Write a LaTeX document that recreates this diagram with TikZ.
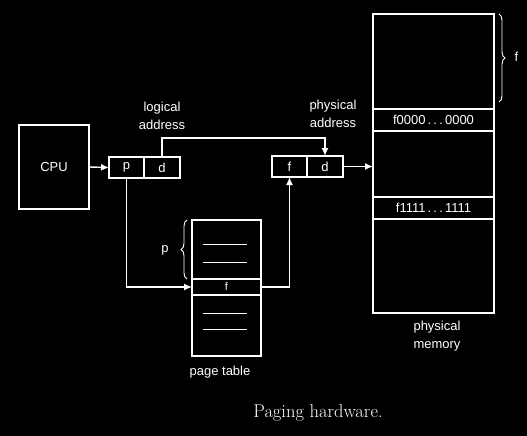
\documentclass[tikz,border=0pt]{standalone}
\usepackage{fontspec}
\newfontfamily\labelfont{Liberation Sans}
\usetikzlibrary{positioning,arrows.meta,decorations.pathreplacing}

\tikzset{
  wire/.style={draw=white,line width=1.4pt},
  ptr/.style={wire,-{Latex[length=8pt,width=7pt]}},
  box/.style={draw=white,line width=1.4pt,rectangle,inner sep=0pt,outer sep=0pt,
    text=white,font=\labelfont\fontsize{13}{15}\selectfont},
  cell/.style={box,minimum height=21pt},
  lbl/.style={text=white,align=center,font=\labelfont\fontsize{13}{18}\selectfont},
  brace/.style={wire,line width=0.9pt,decorate,decoration={brace,amplitude=6pt}},
}

\begin{document}
\begin{tikzpicture}[x=1pt,y=-1pt]
% background
\fill[black] (0,0) rectangle (527,436);
\useasboundingbox (0,0) rectangle (527,436);

% CPU and logical address
\node[box,minimum width=70pt,minimum height=84pt] (cpu) at (54,167) {CPU};
\node[cell,minimum width=35pt] (lp) at (126.5,167.5) {p};
\node[cell,minimum width=36pt,right=0pt of lp] (ld) {d};
\node[lbl] (laddr) at (162,116) {logical\\address};

% physical address
\node[cell,minimum width=35pt] (pf) at (289.5,166.5) {f};
\node[cell,minimum width=36pt,right=0pt of pf] (pd) {d};
\node[lbl] (paddr) at (333,114) {physical\\address};

% physical memory
\node[box,minimum width=121pt,minimum height=95pt] (memtop) at (433.5,61.5) {};
\node[box,minimum width=121pt,minimum height=22pt,below=0pt of memtop] (mem0) {f0000\,.\,.\,.\,0000};
\node[box,minimum width=121pt,minimum height=66pt,below=0pt of mem0] (memmid) {};
\node[box,minimum width=121pt,minimum height=22pt,below=0pt of memmid] (mem1) {f1111\,.\,.\,.\,1111};
\node[box,minimum width=121pt,minimum height=94pt,below=0pt of mem1] (membot) {};
\node[lbl] (pmem) at (437,336) {physical\\memory};
\draw[brace] (499,14) -- (499,102);
\node[lbl,anchor=west] (fsize) at (511,57) {f};

% page table
\node[box,minimum width=69pt,minimum height=59pt] (pttop) at (226.5,249.5) {};
\node[box,minimum width=69pt,minimum height=16pt,below=0pt of pttop,font=\labelfont\fontsize{11}{13}\selectfont] (ptf) {f};
\node[box,minimum width=69pt,minimum height=61pt,below=0pt of ptf] (ptbot) {};
\foreach \y in {244,262,313,329}
  \draw[wire,line width=1pt] (203,\y) -- (247,\y);
\draw[brace] (187,279) -- (187,220);
\node[lbl] (psize) at (165,250) {p};
\node[lbl] (ptab) at (220,372) {page table};

% connectors
\draw[ptr] (cpu.east) -- (lp.west);
\draw[ptr] (ld.north) -- ++(0,-19) -| (pd.north);
\draw[ptr] (lp.south) |- (ptf.west);
\draw[ptr] (ptf.east) -| (pf.south);
\draw[ptr] (pd.east) -- (pd.east -| memmid.west);

% caption
\node[text=white,font=\fontsize{18.5}{22}\selectfont] (cap) at (318,413) {Paging hardware.};
\end{tikzpicture}
\end{document}
